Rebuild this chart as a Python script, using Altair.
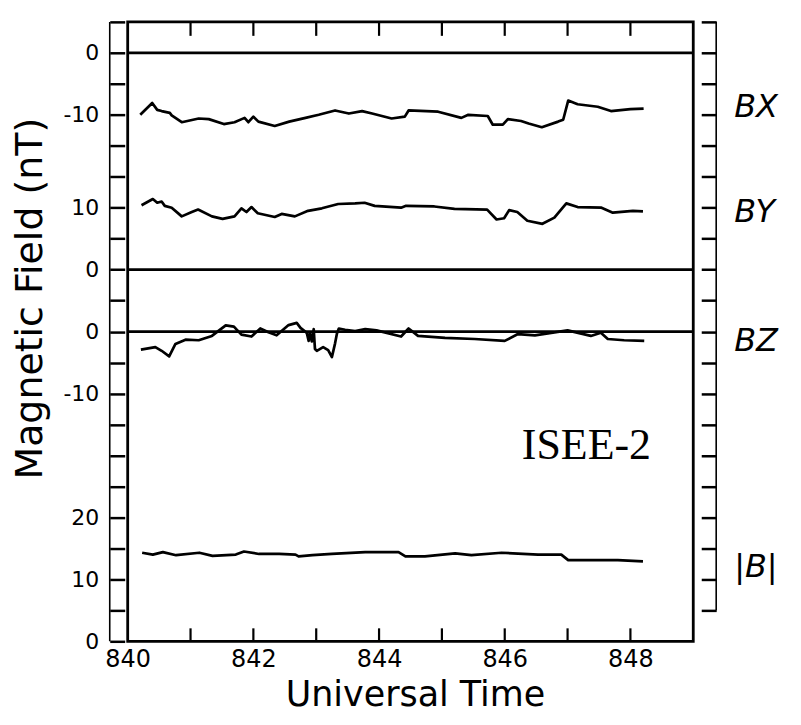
import altair as alt
import pandas as pd

# ---- data (UT hours, nT) ----
bx_t = [840.20, 840.39, 840.47, 840.54, 840.67, 840.70, 840.86, 841.13, 841.29, 841.53,
        841.70, 841.86, 841.92, 842.00, 842.08, 842.34, 842.57, 842.83, 843.04, 843.30,
        843.52, 843.73, 843.89, 844.20, 844.41, 844.47, 844.94, 845.31, 845.42, 845.73,
        845.81, 845.97, 846.05, 846.26, 846.38, 846.59, 846.85, 846.93, 847.01, 847.16,
        847.48, 847.69, 848.00, 848.21]
bx_v = [-10.0, -8.1, -9.2, -9.4, -9.7, -10.1, -11.2, -10.6, -10.7, -11.5,
        -11.2, -10.5, -11.2, -10.3, -11.1, -11.8, -11.1, -10.5, -10.0, -9.3,
        -9.8, -9.4, -9.8, -10.6, -10.3, -9.3, -9.5, -10.5, -10.0, -10.2,
        -11.6, -11.6, -10.7, -11.0, -11.4, -12.0, -11.1, -10.8, -7.7, -8.3,
        -8.7, -9.4, -9.1, -9.0]

by_t = [840.22, 840.40, 840.47, 840.54, 840.59, 840.70, 840.86, 841.02, 841.12, 841.34,
        841.51, 841.70, 841.81, 841.89, 841.97, 842.07, 842.34, 842.45, 842.66, 842.87,
        843.09, 843.35, 843.62, 843.77, 843.93, 844.35, 844.43, 844.88, 845.20, 845.72,
        845.87, 845.99, 846.07, 846.20, 846.36, 846.60, 846.79, 846.98, 847.16, 847.54,
        847.72, 848.04, 848.20]
by_v = [10.4, 11.4, 10.8, 11.0, 10.3, 10.0, 8.6, 9.3, 9.7, 8.6,
        8.2, 8.6, 9.9, 9.3, 10.1, 9.1, 8.5, 9.0, 8.6, 9.5,
        9.9, 10.6, 10.7, 10.8, 10.3, 10.0, 10.3, 10.2, 9.8, 9.7,
        8.1, 8.3, 9.6, 9.3, 7.9, 7.4, 8.4, 10.7, 10.1, 10.0,
        9.2, 9.5, 9.4]

bz_t = [840.21, 840.44, 840.54, 840.66, 840.76, 840.92, 841.13, 841.34, 841.56, 841.69,
        841.81, 841.97, 842.11, 842.24, 842.37, 842.56, 842.69, 842.75, 842.85, 842.88,
        842.90, 842.93, 842.96, 842.98, 843.01, 843.11, 843.19, 843.25, 843.30, 843.33,
        843.36, 843.46, 843.62, 843.78, 843.96, 844.35, 844.47, 844.62, 845.05, 845.52,
        846.00, 846.21, 846.48, 847.00, 847.37, 847.53, 847.64, 847.90, 848.22]
bz_v = [-2.9, -2.5, -3.1, -4.0, -2.0, -1.3, -1.4, -0.7, 1.0, 0.8,
        -0.5, -0.8, 0.5, -0.1, -0.6, 1.05, 1.4, 0.6, -0.2, -1.5,
        -0.2, -1.6, 0.4, -2.8, -3.1, -2.5, -3.0, -4.1, -1.9, -0.3,
        0.5, 0.3, 0.1, 0.4, 0.2, -0.8, 0.5, -0.7, -1.0, -1.2,
        -1.5, -0.4, -0.6, 0.2, -0.7, -0.2, -1.2, -1.4, -1.5]

bb_t = [840.23, 840.40, 840.56, 840.77, 841.14, 841.35, 841.72, 841.85, 842.09, 842.41,
        842.67, 842.72, 842.94, 843.25, 843.78, 844.31, 844.42, 844.73, 845.21, 845.47,
        845.95, 846.53, 846.90, 847.01, 847.38, 847.80, 848.20]
bb_v = [14.3, 14.0, 14.4, 13.9, 14.3, 13.8, 14.0, 14.5, 14.1, 14.1,
        14.0, 13.7, 13.9, 14.1, 14.4, 14.4, 13.7, 13.7, 14.2, 13.9,
        14.3, 14.0, 14.0, 13.1, 13.1, 13.1, 12.9]

series_names = ["BX", "BY", "BZ", "|B|"]
series_offsets = [95, 60, 50, 0]          # stacking offset of each trace on the shared axis
zero_levels = [95, 60, 50]                 # zero reference lines of BX, BY, BZ
label_y = [86.2, 69.3, 48.5, 12.0]         # where the trace names sit
x_labels = [840, 842, 844, 846, 848]
x_ticks = [841, 842, 843, 844, 845, 846, 847, 848]
left_ticks = list(range(0, 101, 5))
right_ticks = list(range(5, 101, 5))
tick_pos = [95, 85, 70, 60, 50, 40, 20, 10, 0]
tick_txt = ["0", "-10", "10", "0", "0", "-10", "20", "10", "0"]

rows = []
for name, off, ts, vs in zip(series_names, series_offsets,
                             [bx_t, by_t, bz_t, bb_t], [bx_v, by_v, bz_v, bb_v]):
    for t, v in zip(ts, vs):
        rows.append({"series": name, "t": t, "v": v, "y": v + off})
df = pd.DataFrame(rows)

label_expr = "".join(f"datum.value == {p} ? '{s}' : " for p, s in zip(tick_pos, tick_txt)) + "''"

W, H = 567, 621
FONT = "DejaVu Sans"
xs = alt.Scale(domain=[840, 849], nice=False, zero=False)
ys = alt.Scale(domain=[0, 100], nice=False, zero=False)

lines = alt.Chart(df).mark_line(color="black", strokeWidth=2.7, strokeJoin="round").encode(
    x=alt.X("t:Q", scale=xs, axis=alt.Axis(
        orient="bottom", values=x_labels, format="d", ticks=False,
        domain=False, grid=False, labelFlush=False, labelOverlap=False,
        labelFont=FONT, labelFontSize=24, labelColor="black", labelPadding=6,
        title="Universal Time", titleFont=FONT, titleFontSize=35, titleFontWeight="normal",
        titleColor="black", titleX=288, titleY=64, titleBaseline="alphabetic",
        titleAlign="center")),
    y=alt.Y("y:Q", scale=ys, axis=alt.Axis(
        orient="left", values=left_ticks, labelExpr=label_expr, offset=3, tickSize=15,
        tickWidth=2.5, tickColor="black", domain=False, grid=False, labelOverlap=False,
        labelFont=FONT, labelFontSize=22, labelColor="black", labelPadding=11,
        title="Magnetic Field (nT)", titleFont=FONT, titleFontSize=38,
        titleFontWeight="normal", titleColor="black", titleAngle=270, titleX=-94,
        titleY=277, titleAlign="center", titleBaseline="middle")),
    detail="series:N",
)

zeros = alt.Chart(pd.DataFrame({"y": zero_levels})).mark_rule(
    color="black", strokeWidth=2.6).encode(y=alt.Y("y:Q", scale=ys, axis=None))

xt = pd.DataFrame({"t": x_ticks})
top_ticks = alt.Chart(xt).mark_rule(color="black", strokeWidth=2.2).encode(
    x=alt.X("t:Q", scale=xs, axis=None), y=alt.value(0), y2=alt.value(14))
bottom_ticks = alt.Chart(xt).mark_rule(color="black", strokeWidth=2.2).encode(
    x=alt.X("t:Q", scale=xs, axis=None), y=alt.value(H), y2=alt.value(H - 13))

left_line = alt.Chart(pd.DataFrame({"a": [100], "b": [0]})).mark_rule(
    color="black", strokeWidth=1.6).encode(
    x=alt.value(-18), y=alt.Y("a:Q", scale=ys, axis=None), y2="b:Q")

right_line = alt.Chart(pd.DataFrame({"a": [100], "b": [5]})).mark_rule(
    color="black", strokeWidth=1.6).encode(
    x=alt.value(W + 23),
    y=alt.Y("a:Q", scale=ys, axis=alt.Axis(
        orient="right", values=right_ticks, offset=8, tickSize=15, tickWidth=2.5,
        tickColor="black", labels=False, domain=False, grid=False, title="")),
    y2="b:Q")

names = alt.Chart(pd.DataFrame({"name": series_names, "y": label_y})).mark_text(
    align="left", baseline="middle", font=FONT, fontSize=32, fontStyle="italic",
    color="black").encode(
    x=alt.value(W + 41), y=alt.Y("y:Q", scale=ys, axis=None), text="name:N")

isee = alt.Chart(pd.DataFrame({"t": [847.3], "y": [31.6], "s": ["ISEE-2"]})).mark_text(
    font="Liberation Serif", fontSize=44, align="center", baseline="middle",
    color="black").encode(
    x=alt.X("t:Q", scale=xs, axis=None), y=alt.Y("y:Q", scale=ys, axis=None), text="s:N")

chart = alt.layer(
    lines, zeros, top_ticks, bottom_ticks, left_line, right_line, names, isee
).resolve_axis(x="independent", y="independent").properties(
    width=W, height=H, background="white",
    autosize=alt.AutoSizeParams(type="none"),
    padding={"left": 120, "top": 13, "right": 100, "bottom": 82},
).configure_view(stroke="black", strokeWidth=2.8)

chart.save("out.html", embed_options={"renderer": "svg", "actions": False})
